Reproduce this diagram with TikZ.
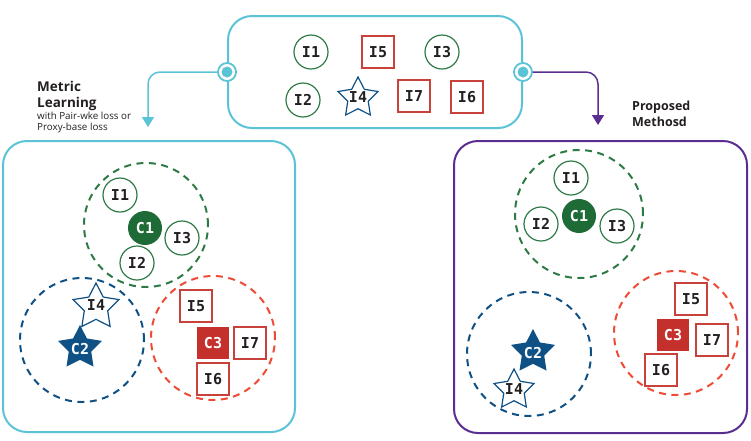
\documentclass[tikz,border=0pt]{standalone}
\usepackage{fontspec}
\setmainfont{Open Sans}[BoldFont={Open Sans Bold}]
\newfontfamily\lblfont{DejaVu Sans Mono}[BoldFont={DejaVu Sans Mono Bold}]
\usetikzlibrary{shapes.geometric,arrows.meta}
\definecolor{lblue}{HTML}{5BC3D6}
\definecolor{purp}{HTML}{5A2D91}
\definecolor{gdark}{HTML}{1F6B37}
\definecolor{gline}{HTML}{2E7A45}
\definecolor{bdark}{HTML}{0F5185}
\definecolor{rdark}{HTML}{C4302B}
\definecolor{rline}{HTML}{C8413B}
\definecolor{rdash}{HTML}{EE4B36}
\definecolor{txt}{HTML}{231F20}
\begin{document}
\begin{tikzpicture}[x=1pt,y=-1pt,
  box/.style={draw, line width=2pt, rounded corners=24pt, inner sep=0},
  conn/.style={circle, draw=lblue, fill=white, line width=1.8pt, minimum size=18pt, inner sep=0},
  conndot/.style={circle, fill=lblue, minimum size=11pt, inner sep=0},
  arr/.style={line width=1.5pt, rounded corners=12pt, -{Triangle[length=10pt,width=12pt]}},
  head/.style={font=\bfseries\fontsize{13.5}{14}\selectfont, text=txt, inner sep=0, anchor=base west},
  head2/.style={font=\bfseries\fontsize{12.5}{13}\selectfont, text=txt, inner sep=0, anchor=base west},
  small/.style={font=\fontsize{9.8}{10}\selectfont, text=txt, inner sep=0, anchor=base west},
  lbl/.style={font=\lblfont\bfseries\fontsize{15}{15}\selectfont, text=txt, inner sep=0},
  wlbl/.style={font=\lblfont\bfseries\fontsize{15}{15}\selectfont, text=white, inner sep=0},
  icirc/.style={circle, draw=gline, line width=1.2pt, minimum size=34pt, inner sep=0, lbl},
  isq/.style={rectangle, draw=rline, line width=1.2pt, minimum size=32pt, inner sep=0, lbl},
  ccirc/.style={circle, fill=gdark, minimum size=34pt, inner sep=0, wlbl},
  csq/.style={rectangle, fill=rdark, minimum size=32pt, inner sep=0, wlbl},
  istar/.style={star, star points=5, star point ratio=1.95, draw=bdark, line width=1.2pt, minimum size=#1, inner sep=0},
  cstar/.style={star, star points=5, star point ratio=1.95, fill=bdark, minimum size=#1, inner sep=0},
  dcirc/.style={circle, line width=2pt, dash pattern=on 7pt off 5.5pt, minimum size=124pt, inner sep=0}
]
\useasboundingbox (0,0) rectangle (751,440);

% top box
\node[box, draw=lblue, minimum width=294pt, minimum height=112pt] (top) at (375,72) {};
\node[icirc] (t1) at (311,52) {I1};
\node[isq] (t5) at (378,52) {I5};
\node[icirc] (t3) at (442,52) {I3};
\node[icirc] (t2) at (303,100) {I2};
\node[istar=42pt] (t4s) at (358,98) {};
\node[lbl] (t4) at (358,97) {I4};
\node[isq] (t7) at (414,96) {I7};
\node[isq] (t6) at (467,97) {I6};

% left and right boxes
\node[box, draw=lblue, minimum width=292pt, minimum height=291pt] (lbox) at (149,286.5) {};
\node[box, draw=purp, minimum width=293pt, minimum height=292pt] (rbox) at (600.5,287) {};

% connectors
\node[conn] (cl) at (top.west) {};
\node[conndot] (cld) at (cl) {};
\node[conn] (cr) at (top.east) {};
\node[conndot] (crd) at (cr) {};
\coordinate (ltip) at (148,127);
\coordinate (rtip) at (598,125);
\draw[arr, lblue] (cl.west) -| (ltip);
\draw[arr, purp] (cr.east) -| (rtip);

% labels
\node[head] (mlt1) at (37,91) {Metric};
\node[head] (mlt2) at (37,107) {Learning};
\node[small] (mls1) at (37,119.5) {with Pair-wke loss or};
\node[small] (mls2) at (37,130.5) {Proxy-base loss};
\node[head2] (pm1) at (632,110) {Proposed};
\node[head2] (pm2) at (632,126) {Methosd};

% left box clusters
\node[dcirc, draw=gline] (lg) at (146,225) {};
\node[dcirc, draw=bdark] (lb) at (82,340) {};
\node[dcirc, draw=rdash] (lr) at (213,338) {};
\node[icirc] (l1) at (120,195) {I1};
\node[ccirc] (lc1) at (145,228) {C1};
\node[icirc] (l3) at (182,238) {I3};
\node[icirc] (l2) at (137,263) {I2};
\node[istar=48pt, fill=white] (l4s) at (96,307) {};
\node[lbl] (l4) at (96,305) {I4};
\node[cstar=46pt] (lc2s) at (80,348) {};
\node[wlbl] (lc2) at (80,349) {C2};
\node[isq] (l5) at (196,306) {I5};
\node[csq] (lc3) at (213,343) {C3};
\node[isq] (l7) at (250,343) {I7};
\node[isq] (l6) at (213,379) {I6};

% right box clusters
\node[dcirc, draw=gline, minimum size=128pt] (rg) at (579,214) {};
\node[dcirc, draw=bdark] (rb) at (529,354) {};
\node[dcirc, draw=rdash] (rr) at (676,333) {};
\node[icirc] (r1) at (571,178) {I1};
\node[ccirc] (rc1) at (579,216) {C1};
\node[icirc] (r2) at (541,224) {I2};
\node[icirc] (r3) at (617,226) {I3};
\node[cstar=46pt] (rc2s) at (533,352) {};
\node[wlbl] (rc2) at (533,353) {C2};
\node[istar=42pt, fill=white] (r4s) at (514,390) {};
\node[lbl] (r4) at (514,389) {I4};
\node[isq] (r5) at (691,299) {I5};
\node[csq] (rc3) at (673,335) {C3};
\node[isq] (r7) at (712,340) {I7};
\node[isq] (r6) at (661,370) {I6};
\end{tikzpicture}
\end{document}
